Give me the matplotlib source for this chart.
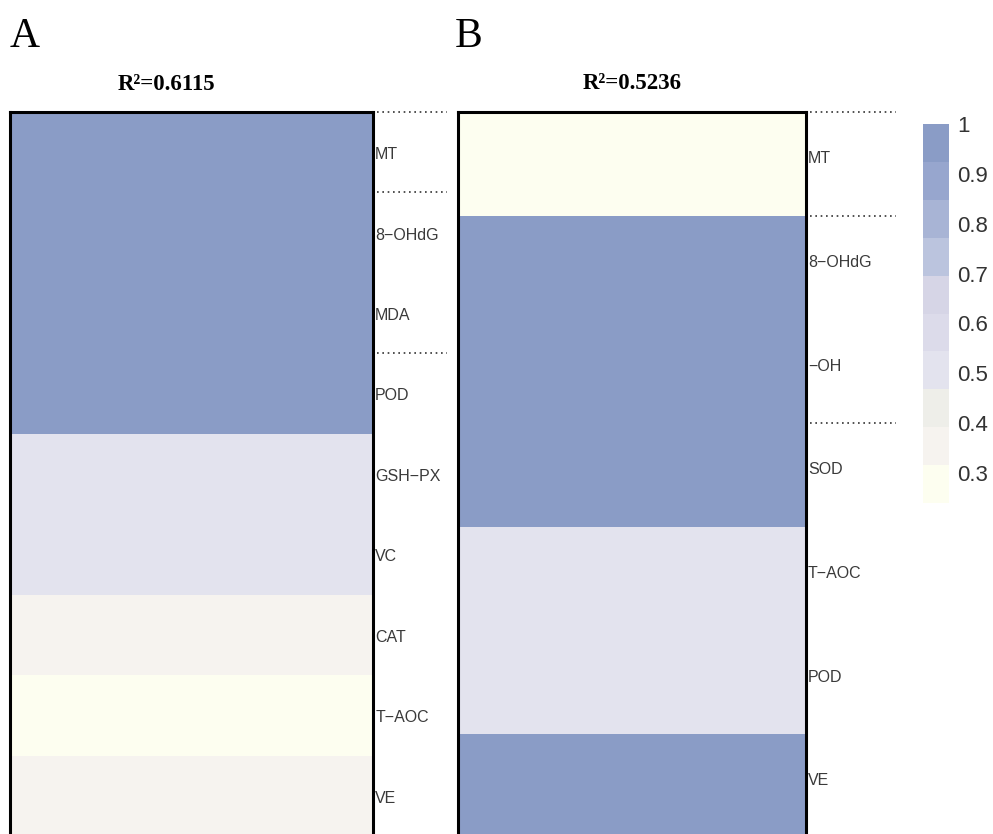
import matplotlib
matplotlib.use("Agg")
import matplotlib.pyplot as plt
import numpy as np
from matplotlib.colors import ListedColormap, BoundaryNorm
from matplotlib.transforms import blended_transform_factory
import matplotlib.cm as cm

# panel A
rows_a = ["MT", "8\u2212OHdG", "MDA", "POD", "GSH\u2212PX", "VC", "CAT", "T\u2212AOC", "VE"]
vals_a = [0.98, 0.98, 0.98, 0.98, 0.50, 0.50, 0.36, 0.28, 0.36]
groups_a = [0, 1, 3]          # dotted separators drawn above these rows
title_a = "R\u00b2=0.6115"

# panel B
rows_b = ["MT", "8\u2212OHdG", "\u2212OH", "SOD", "T\u2212AOC", "POD", "VE"]
vals_b = [0.28, 0.98, 0.98, 0.98, 0.50, 0.50, 0.98]
groups_b = [0, 1, 3]
title_b = "R\u00b2=0.5236"

# colour scale
cb_colors = ["#FDFEF0", "#F6F3EF", "#EEEEE9", "#E3E3EE", "#DCDBEA",
             "#D6D5E6", "#BBC4DE", "#A8B4D5", "#97A6CE", "#8A9CC6"]
vmin, vmax = 0.24, 1.0
cb_ticks = [0.3, 0.4, 0.5, 0.6, 0.7, 0.8, 0.9, 1.0]
cb_ticklabels = ["0.3", "0.4", "0.5", "0.6", "0.7", "0.8", "0.9", "1"]

cmap = ListedColormap(cb_colors)
bounds = np.linspace(vmin, vmax, len(cb_colors) + 1)
norm = BoundaryNorm(bounds, cmap.N)

fig = plt.figure(figsize=(9.93, 8.34), dpi=100)
W, H = 993, 834


def px_axes(x0, y0, x1, y1):
    return fig.add_axes([x0 / W, 1 - y1 / H, (x1 - x0) / W, (y1 - y0) / H])


def panel(ax, rows, vals, groups, title, line_end, title_x, lab_off):
    n = len(rows)
    data = np.array(vals).reshape(-1, 1)
    ax.pcolormesh(np.array([0, 1]), np.arange(n + 1), data, cmap=cmap, norm=norm)
    ax.set_xlim(0, 1)
    ax.set_ylim(n, 0)
    ax.set_xticks([])
    ax.set_yticks([])
    for s in ax.spines.values():
        s.set_linewidth(2.2)
        s.set_color("black")
    tr = blended_transform_factory(ax.transAxes, ax.transData)
    for i, r in enumerate(rows):
        ax.text(1.006, i + lab_off, r, transform=tr, ha="left", va="center",
                fontsize=11.5, color="#3a3a3a", family="Liberation Sans")
    for g in groups:
        ax.plot([1.012, line_end], [g, g], transform=tr, clip_on=False,
                color="#333333", lw=1.2, ls=(0, (1, 2.2)))
    ax.text(title_x, 1.031, title, transform=ax.transAxes, ha="center",
            va="baseline", fontsize=16.5, fontweight="bold", family="Liberation Serif")


ax_a = px_axes(10, 112, 373, 836)
panel(ax_a, rows_a, vals_a, groups_a, title_a, 1.205, 0.43, 0.53)

ax_b = px_axes(458, 112, 806, 838)
panel(ax_b, rows_b, vals_b, groups_b, title_b, 1.26, 0.5, 0.45)

fig.text(10 / W, 1 - 47 / H, "A", fontsize=30, family="Liberation Serif", va="baseline")
fig.text(455 / W, 1 - 47 / H, "B", fontsize=30, family="Liberation Serif", va="baseline")

cax = px_axes(923, 124, 949, 503)
cb = fig.colorbar(cm.ScalarMappable(norm=norm, cmap=cmap), cax=cax,
                  boundaries=bounds, ticks=cb_ticks)
cb.outline.set_visible(False)
cb.ax.minorticks_off()
cb.ax.set_yticklabels(cb_ticklabels)
cb.ax.tick_params(length=0, pad=6, labelsize=16, labelcolor="#333333")
for t in cb.ax.get_yticklabels():
    t.set_family("Liberation Sans")

fig.savefig("out.png", dpi=100)
